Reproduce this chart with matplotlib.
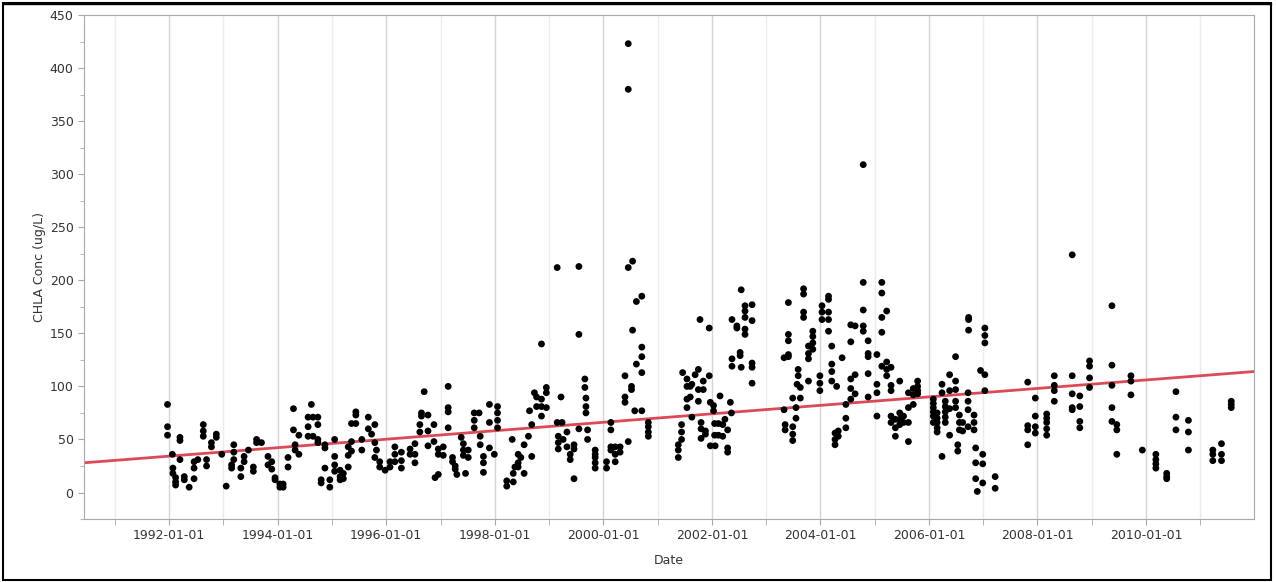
import datetime as dt
import numpy as np
import matplotlib
matplotlib.use('Agg')
import matplotlib.pyplot as plt
import matplotlib.dates as mdates
from matplotlib.patches import Rectangle
from matplotlib.lines import Line2D

# Sampling dates (decimal years) and CHLA values measured on each date (ug/L)
sample_years = [
    1991.97, 1992.06, 1992.07, 1992.12, 1992.20, 1992.28, 1992.37, 1992.46, 1992.53, 1992.63,
    1992.69, 1992.78, 1992.87, 1992.97, 1993.05, 1993.15, 1993.19, 1993.32, 1993.38, 1993.46,
    1993.55, 1993.61, 1993.70, 1993.82, 1993.89, 1993.95, 1994.04, 1994.10, 1994.19, 1994.29,
    1994.32, 1994.39, 1994.56, 1994.62, 1994.65, 1994.74, 1994.80, 1994.87, 1994.96, 1995.05,
    1995.15, 1995.21, 1995.30, 1995.36, 1995.44, 1995.55, 1995.67, 1995.73, 1995.79, 1995.82,
    1995.88, 1995.98, 1996.07, 1996.16, 1996.28, 1996.44, 1996.53, 1996.62, 1996.65, 1996.70,
    1996.77, 1996.88, 1996.90, 1996.96, 1997.05, 1997.14, 1997.22, 1997.27, 1997.30, 1997.38,
    1997.42, 1997.46, 1997.51, 1997.62, 1997.71, 1997.73, 1997.79, 1997.90, 1997.99, 1998.05,
    1998.22, 1998.32, 1998.34, 1998.37, 1998.43, 1998.48, 1998.54, 1998.62, 1998.64, 1998.68,
    1998.73, 1998.77, 1998.86, 1998.95, 1999.15, 1999.17, 1999.22, 1999.24, 1999.26, 1999.33,
    1999.39, 1999.46, 1999.55, 1999.66, 1999.68, 1999.71, 1999.85, 2000.06, 2000.14, 2000.22,
    2000.31, 2000.40, 2000.46, 2000.52, 2000.54, 2000.58, 2000.61, 2000.71, 2000.83, 2001.38,
    2001.44, 2001.46, 2001.54, 2001.60, 2001.63, 2001.69, 2001.75, 2001.78, 2001.80, 2001.84,
    2001.88, 2001.95, 2001.97, 2002.03, 2002.05, 2002.06, 2002.12, 2002.15, 2002.20, 2002.24,
    2002.29, 2002.34, 2002.36, 2002.37, 2002.46, 2002.52, 2002.54, 2002.61, 2002.74, 2003.33,
    2003.35, 2003.41, 2003.49, 2003.55, 2003.57, 2003.59, 2003.63, 2003.69, 2003.78, 2003.86,
    2003.99, 2004.03, 2004.15, 2004.21, 2004.27, 2004.30, 2004.33, 2004.40, 2004.47, 2004.56,
    2004.64, 2004.79, 2004.88, 2005.04, 2005.13, 2005.22, 2005.30, 2005.38, 2005.46, 2005.53,
    2005.62, 2005.71, 2005.79, 2006.08, 2006.15, 2006.24, 2006.30, 2006.38, 2006.49, 2006.53,
    2006.56, 2006.62, 2006.72, 2006.73, 2006.83, 2006.86, 2006.89, 2006.95, 2006.99, 2007.03,
    2007.22, 2007.82, 2007.96, 2008.17, 2008.31, 2008.64, 2008.78, 2008.96, 2009.37, 2009.46,
    2009.72, 2009.93, 2010.18, 2010.38, 2010.55, 2010.78, 2011.23, 2011.39, 2011.57,
]
chla = [
    [83, 62, 54], [36], [18, 23], [14, 10, 7], [52, 49, 31], [15, 12], [5], [29, 23, 13], [31], [64, 58, 53],
    [31, 25], [47, 43], [55, 52], [36], [6], [26, 23], [45, 38, 31], [23, 15], [34, 29], [40],
    [24, 20], [50, 47], [47], [34, 26], [29, 22], [14, 12], [8, 5], [8, 5], [33, 24], [79, 59],
    [45, 40], [54, 36], [71, 62, 53], [83], [71, 53], [71, 64, 50, 47], [12, 9], [45, 42, 23], [12, 5], [50, 34, 26, 20],
    [21, 15, 12], [18, 13], [43, 35, 24], [65, 48, 39], [76, 73, 65], [50, 40], [71, 60], [55], [64, 47, 33], [40],
    [29, 24], [21], [29, 24], [43, 36, 29], [38, 30, 23], [41, 36], [46, 36, 28], [64, 57], [75, 72], [95],
    [73, 58, 44], [64, 48], [14], [17, 41, 36], [43, 35], [100, 80, 76, 61], [33, 29], [25, 22], [17], [52],
    [46, 40, 35], [18], [40, 33], [75, 68, 61], [75], [53, 45], [34, 28, 19], [83, 66, 42], [36], [81, 75, 68, 61],
    [11, 6], [50], [18, 10], [24], [36, 28, 24], [33], [45, 18], [53], [77], [64, 34],
    [94], [90, 81], [140, 88, 81, 72], [99, 94, 80], [212, 66], [53, 47, 41], [90], [66], [50], [57, 43],
    [36, 31], [45, 41, 13], [213, 149, 60], [107, 99], [89, 81, 75], [59, 50], [40, 36, 33, 28, 23], [29, 23], [66, 59, 43, 40], [43, 36, 29],
    [43, 38], [110, 90, 85], [423, 380, 212, 48], [100, 97], [218, 153], [77], [180, 121], [185, 137, 128, 113, 77], [66, 62, 57, 53], [45, 40, 33],
    [64, 57, 50], [113], [107, 100, 88, 80], [100, 90], [102, 71], [111], [116, 97, 86], [163], [66, 60, 51], [105, 97],
    [58, 55], [155, 110], [85, 44], [82, 77], [65, 54], [44], [65, 54], [91], [64, 53], [69],
    [59, 42, 38], [85], [75], [163, 126, 119], [157, 155], [132, 129], [191, 118], [176, 171, 165, 154, 149], [177, 162, 122, 118, 103], [127, 78],
    [64, 59], [179, 149, 143, 130, 128], [89, 62, 55, 49], [80, 70], [102], [116, 110], [99, 89], [192, 187, 170, 165], [138, 131, 126, 105], [152, 147, 141, 135],
    [110, 103, 96], [176, 170, 163], [185, 182, 170, 163, 152], [138, 121, 114, 105], [56, 50, 45], [100], [58, 53], [127], [83, 70, 61], [158, 142, 107, 98, 88],
    [157, 111, 93], [309, 198, 172, 157, 152], [143, 131, 128, 112, 90], [130, 102, 94, 72], [198, 188, 165, 151, 119], [171, 123, 116, 110], [118, 101, 96, 72, 66], [69, 61, 53], [105, 75, 69, 64], [72, 66],
    [94, 80, 66, 48], [98, 92, 83], [105, 100, 96, 93], [88, 84, 80, 76, 72, 66], [75, 70, 66, 61, 57], [102, 94, 34], [86, 81, 76, 71, 66], [111, 96, 79, 54], [128, 105, 97, 86, 80], [45, 39],
    [73, 66, 59], [66, 58], [94, 86, 78, 62], [165, 163, 153], [73, 66, 59], [42, 28, 13], [1], [115], [36, 27, 9], [155, 148, 141, 111, 96],
    [15, 4], [104, 63, 59, 45], [89, 72, 62, 56], [74, 70, 66, 60, 54], [110, 101, 96, 86], [224, 110, 93, 80, 78], [91, 81, 67, 61], [124, 119, 108, 99], [176, 120, 101, 80, 67], [64, 59, 36],
    [110, 105, 92], [40], [36, 31, 27, 23], [18, 15, 13], [95, 71, 59], [68, 57, 40], [40, 36, 30], [46, 36, 30], [86, 83, 80],
]

# Linear trend line end points
trend_years = [1990.43, 2011.99]
trend_values = [28, 114]


def to_date(y):
    year = int(y)
    return dt.datetime(year, 1, 1) + dt.timedelta(days=(y - year) * 365.25)


dates = []
values = []
for y, vals in zip(sample_years, chla):
    for v in vals:
        dates.append(to_date(y))
        values.append(v)

fig = plt.figure(figsize=(12.76, 5.82), dpi=100)
ax = fig.add_axes([0.0658, 0.1082, 0.9170, 0.8660])

ax.plot([to_date(y) for y in trend_years], trend_values,
        color='#dc4a58', linewidth=2, zorder=2)
ax.scatter(dates, values, s=24, color='black', edgecolors='none', zorder=3)

ax.set_xlim(to_date(1990.43), to_date(2011.99))
ax.set_ylim(-25, 450)

ax.xaxis.set_major_locator(mdates.YearLocator(2))
ax.xaxis.set_minor_locator(mdates.YearLocator(1))
ax.xaxis.set_major_formatter(mdates.DateFormatter('%Y-%m-%d'))
ax.set_yticks(np.arange(0, 451, 50))
ax.set_yticks(np.arange(-25, 451, 25), minor=True)

ax.grid(True, axis='x', which='major', color='#d4d4d4', linewidth=1)
ax.grid(True, axis='x', which='minor', color='#ececec', linewidth=1)
ax.set_axisbelow(True)

for s in ax.spines.values():
    s.set_color('#a8a8a8')
ax.tick_params(which='both', direction='out', color='#a8a8a8', labelsize=9,
               labelcolor='#333333')
ax.tick_params(axis='x', which='both', length=4)
ax.tick_params(axis='y', which='major', length=4)
ax.tick_params(axis='y', which='minor', length=3)

ax.set_xlabel('Date', fontsize=9, color='#333333', labelpad=8)
ax.set_ylabel('CHLA Conc (ug/L)', fontsize=9, color='#333333', labelpad=3)

# outer frame with a double line along the top
fig.patches.append(Rectangle((0.002, 0.003), 0.994, 0.991, transform=fig.transFigure,
                             fill=False, edgecolor='black', linewidth=1.5))
fig.lines.append(Line2D([0.002, 0.996], [0.9935, 0.9935], transform=fig.transFigure,
                        color='black', linewidth=1))

fig.savefig('out.png', dpi=100)
